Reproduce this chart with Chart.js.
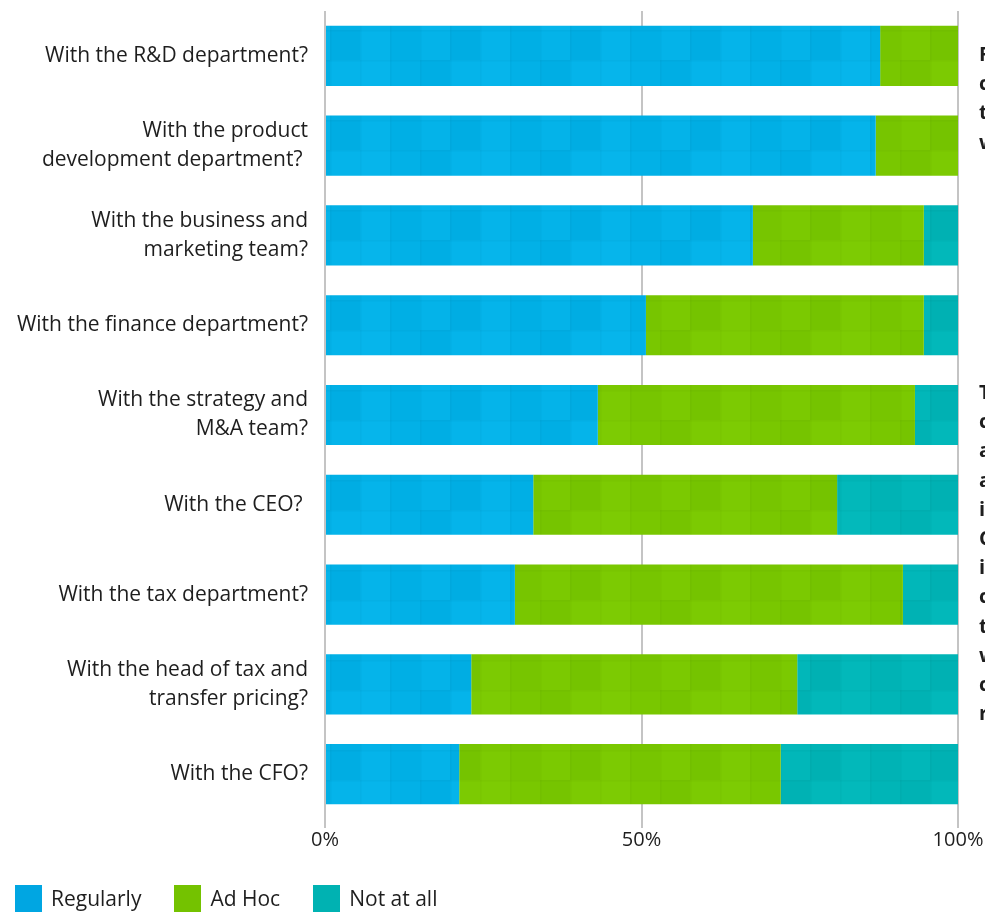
<!DOCTYPE html>
<html>
<head>
<meta charset="utf-8">
<script src="https://cdn.jsdelivr.net/npm/chart.js@4.4.1/dist/chart.umd.min.js"></script>
<style>
  html, body { margin: 0; padding: 0; background: #fff; overflow: hidden; }
  #wrap { position: relative; width: 985px; height: 912px; overflow: hidden; font-family: "Open Sans", sans-serif; color: #1e1e1e; }
  #legend { position: absolute; left: 15px; top: 885px; display: flex; align-items: center; font-size: 21px; line-height: 27px; }
  .item { display: flex; align-items: center; margin-right: 33px; }
  .box { width: 27px; height: 27px; margin-right: 9px; }
  .side { position: absolute; left: 979px; font-weight: bold; font-size: 20px; line-height: 29.2px; white-space: pre; }
</style>
</head>
<body>
<div id="wrap">
  <canvas id="surveyChart"></canvas>
  <div class="side" style="top:39px">F
c
t
w</div>
  <div class="side" style="top:377px">T
c
a
a
i
C
i
c
t
w
c
r</div>
  <div id="legend"></div>
</div>
<script>
const categories = [
  "With the R&D department?",
  ["With the product", "development department? "],
  ["With the business and", "marketing team?"],
  "With the finance department?",
  ["With the strategy and", "M&A team?"],
  "With the CEO? ",
  "With the tax department?",
  ["With the head of tax and", "transfer pricing?"],
  "With the CFO?"
];
const regularly = [87.7, 87.0, 67.6, 50.7, 43.1, 32.9, 30.0, 23.1, 21.2];
const adHoc     = [12.3, 13.0, 27.0, 43.9, 50.1, 48.0, 61.3, 51.5, 50.8];
const notAtAll  = [0,    0,    5.4,  5.4,  6.8,  19.1, 8.7,  25.4, 28.0];
const tickLabels = ["0%", "50%", "100%"];

// colours: base rgb + legend swatch
const series = [
  { label: "Regularly", data: regularly, rgb: [3, 178, 232], swatch: "#00a6e2" },
  { label: "Ad Hoc", data: adHoc, rgb: [122, 200, 0], swatch: "#74c200" },
  { label: "Not at all", data: notAtAll, rgb: [0, 182, 184], swatch: "#00b2b2" }
];

// subtle tiled square texture like the original artwork
function makePattern(rgb) {
  const shades = [0, -4, 3, -2, 2, -3, 1, -5, 3, -1, -4, 2];
  const size = 30, cols = 4, rows = 3;
  const c = document.createElement("canvas");
  c.width = size * cols;
  c.height = size * rows;
  const g = c.getContext("2d");
  for (let r = 0; r < rows; r++) {
    for (let k = 0; k < cols; k++) {
      const d = shades[r * cols + k];
      g.fillStyle = `rgb(${rgb[0] + d},${rgb[1] + d},${rgb[2] + d})`;
      g.fillRect(k * size, r * size, size, size);
      g.fillStyle = "rgba(0,0,0,0.025)";
      g.fillRect(k * size, r * size, size, 1.5);
      g.fillRect(k * size, r * size, 1.5, size);
    }
  }
  return g.createPattern(c, "repeat");
}

const legendEl = document.getElementById("legend");
series.forEach(s => {
  const item = document.createElement("div");
  item.className = "item";
  item.innerHTML = `<span class="box" style="background:${s.swatch}"></span><span>${s.label}</span>`;
  legendEl.appendChild(item);
});

const ctx = document.getElementById("surveyChart").getContext("2d");
new Chart(ctx, {
  type: "bar",
  data: {
    labels: categories,
    datasets: series.map(s => ({
      label: s.label,
      data: s.data,
      backgroundColor: makePattern(s.rgb),
      borderWidth: 0,
      barPercentage: 0.67,
      categoryPercentage: 1
    }))
  },
  options: {
    indexAxis: "y",
    responsive: true,
    maintainAspectRatio: false,
    animation: false,
    layout: { padding: { top: 11, right: 27, bottom: 60, left: 0 } },
    plugins: {
      legend: { display: false },
      tooltip: { enabled: false }
    },
    scales: {
      x: {
        stacked: true,
        min: 0,
        max: 100,
        border: { display: false },
        grid: { color: "#c4c4c4", lineWidth: 2, tickLength: 9, drawTicks: true },
        ticks: {
          stepSize: 50,
          padding: 0,
          color: "#1e1e1e",
          font: { family: "'Open Sans'", size: 20 },
          callback: (v) => tickLabels[v / 50]
        }
      },
      y: {
        stacked: true,
        border: { display: false },
        grid: { display: false, drawTicks: false },
        afterFit: (scale) => {
          scale.width = 325;
          scale.paddingTop = 0;
          scale.paddingBottom = 0;
        },
        ticks: {
          padding: 17,
          color: "#1e1e1e",
          font: { family: "'Open Sans'", size: 21, lineHeight: 1.38 }
        }
      }
    }
  }
});
</script>
</body>
</html>
